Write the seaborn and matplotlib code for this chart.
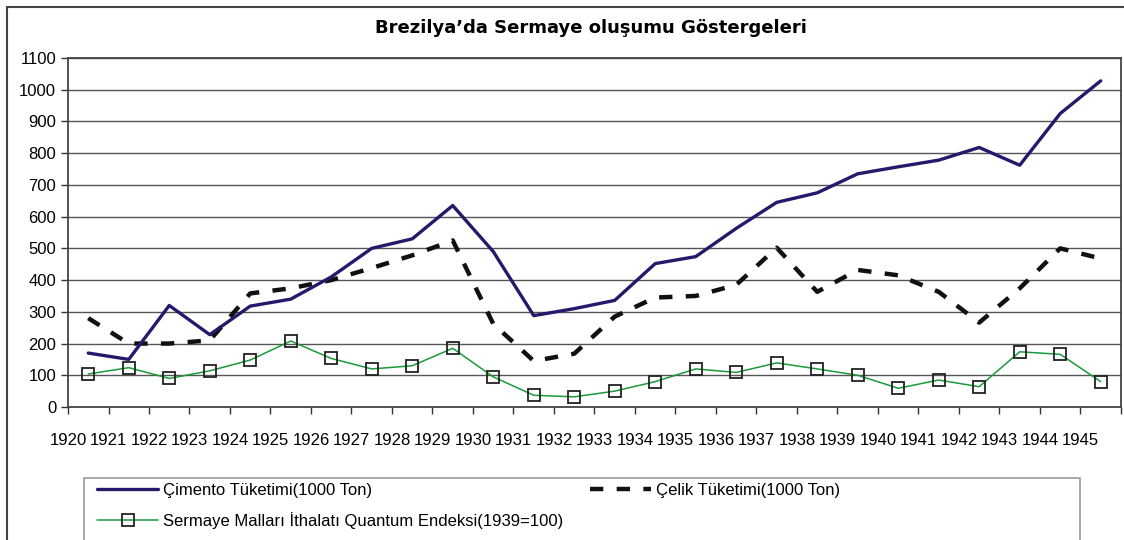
import pandas as pd
import seaborn as sns
import matplotlib.pyplot as plt
from matplotlib.patches import Rectangle

# years on the category axis
years = list(range(1920, 1946))

# values
cimento = [170, 150, 320, 228, 318, 340, 410, 500, 530, 635, 490, 288, 310,
           336, 452, 474, 563, 645, 675, 735, 757, 778, 818, 762, 925, 1028]
celik = [280, 200, 200, 210, 358, 374, 400, 438, 478, 525, 262, 145, 168,
         285, 345, 350, 385, 502, 363, 432, 415, 363, 266, 374, 500, 468]
sermaye = [104, 124, 90, 114, 148, 208, 153, 120, 130, 185, 95, 37, 32,
           50, 80, 120, 109, 139, 120, 100, 59, 85, 64, 174, 166, 80]

lbl_cim = "Çimento Tüketimi(1000 Ton)"
lbl_cel = "Çelik Tüketimi(1000 Ton)"
lbl_ser = "Sermaye Malları İthalatı Quantum Endeksi(1939=100)"

# data points sit in the middle of each category
df = pd.DataFrame({"pos": [i + 0.5 for i in range(len(years))],
                   "cimento": cimento, "celik": celik, "sermaye": sermaye})

sns.set_style("white")
plt.rcParams["font.family"] = ["Liberation Sans", "DejaVu Sans"]
plt.rcParams["text.color"] = "black"
plt.rcParams["xtick.color"] = "black"
plt.rcParams["ytick.color"] = "black"

fig = plt.figure(figsize=(11.24, 5.4), dpi=100)
ax = fig.add_axes([0.0605, 0.2463, 0.9368, 0.6463])

sns.lineplot(data=df, x="pos", y="cimento", ax=ax, color="#241a6b", lw=2.4,
             label=lbl_cim, zorder=4)
sns.lineplot(data=df, x="pos", y="sermaye", ax=ax, color="#1a9a3a", lw=1.1,
             marker="s", markersize=8, markerfacecolor="none",
             markeredgecolor="#222222", markeredgewidth=1.3,
             label=lbl_ser, zorder=3)
sns.lineplot(data=df, x="pos", y="celik", ax=ax, color="#111111", lw=3.2,
             linestyle=(0, (3, 3)), label=lbl_cel, zorder=3)

ax.set_xlim(0, len(years))
ax.set_ylim(0, 1100)
ax.set_yticks(range(0, 1101, 100))
ax.set_xticks(range(len(years) + 1))
ax.set_xticklabels([str(y) for y in years] + [""])
ax.tick_params(axis="both", labelsize=12, length=5, width=1, color="#333333",
               labelcolor="black", direction="out", bottom=True, left=True)
ax.tick_params(axis="x", pad=14)
ax.yaxis.grid(True, color="#555555", lw=1)
ax.xaxis.grid(False)
for s in ax.spines.values():
    s.set_color("#444444")
    s.set_linewidth(1.3)
ax.set_xlabel("")
ax.set_ylabel("")

fig.text(0.526, 0.948, "Brezilya’da Sermaye oluşumu Göstergeleri",
         ha="center", va="center", fontsize=13, fontweight="bold",
         color="black", family=["DejaVu Sans"])

# outer chart frame and legend frame
fig.patches.append(Rectangle((7 / 1124, -0.05), 1.1, 1.05 - 7 / 540,
                             transform=fig.transFigure, fill=False,
                             edgecolor="#444444", lw=1.5))
fig.patches.append(Rectangle((84 / 1124, -0.05), 996 / 1124,
                             0.05 + 1 - 478 / 540,
                             transform=fig.transFigure, fill=False,
                             edgecolor="#999999", lw=1.2))

h, l = ax.get_legend_handles_labels()
ax.get_legend().remove()
fig.legend(h, l, ncol=2, loc="upper left",
           bbox_to_anchor=(90 / 1124, 1 - 476 / 540),
           frameon=False, fontsize=12, handlelength=3.7, handletextpad=0.3,
           borderaxespad=0, labelspacing=0.85, columnspacing=1.56)

plt.savefig("out.png", dpi=100)
